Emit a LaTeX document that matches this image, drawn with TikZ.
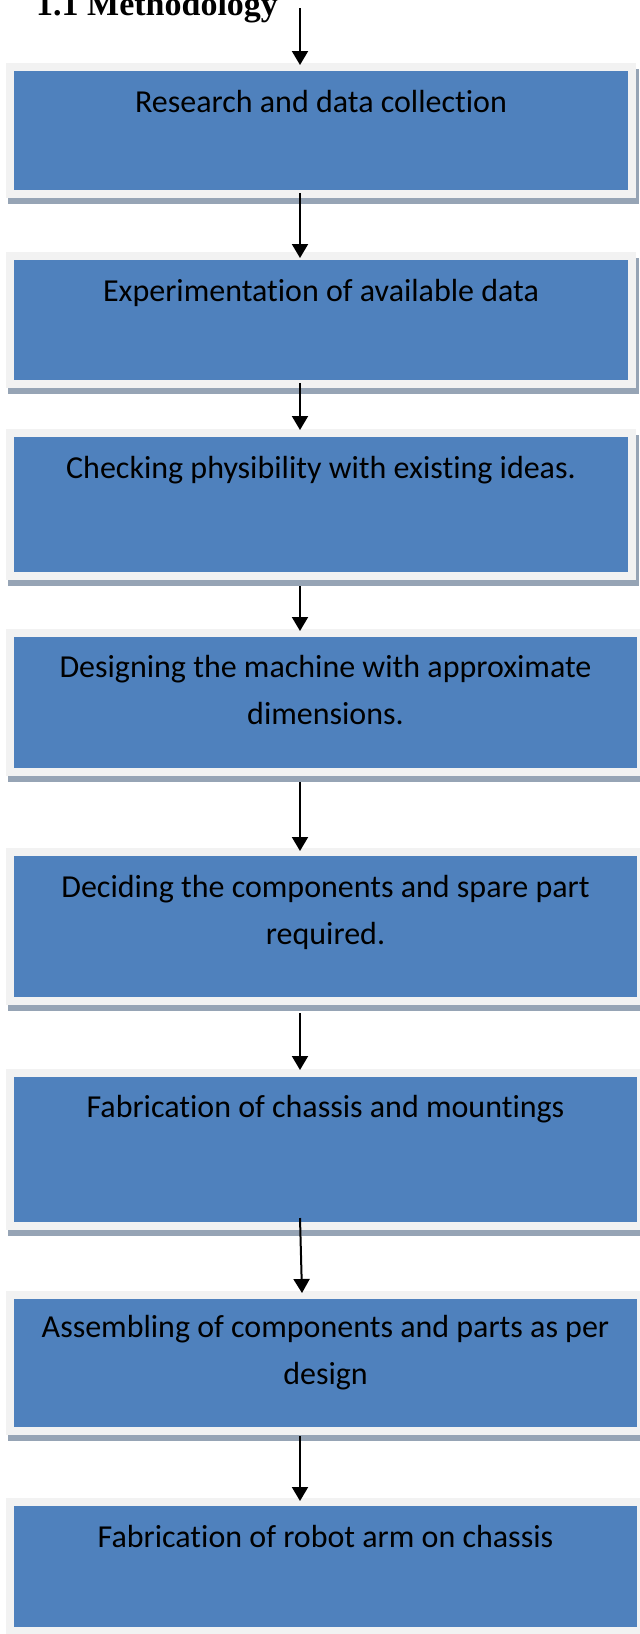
\documentclass[tikz,border=0pt]{standalone}
\usepackage{fontspec}
\setmainfont{Carlito}[Ligatures={NoCommon,NoContextual}]
\newfontfamily\titlefont{Liberation Serif}
\usetikzlibrary{arrows.meta,calc,backgrounds}
\definecolor{boxblue}{HTML}{4F81BD}
\definecolor{framegray}{HTML}{F2F2F2}
\definecolor{shadowc}{HTML}{96A4B5}
\begin{document}
\begin{tikzpicture}[x=1pt,y=1pt,
  stepbox/.style={rectangle, draw=framegray, line width=8pt, fill=boxblue, inner sep=0pt, outer sep=0pt, anchor=north west},
  txt/.style={font=\fontsize{32}{47}\selectfont, align=center, inner sep=0pt, anchor=north, text=black},
  arr/.style={line width=2pt, -{Triangle[width=16pt,length=14pt]}},
  shadowfill/.style={fill=shadowc}
]
\useasboundingbox (0,0) rectangle (640,-1634);

% boxes
\node[stepbox, minimum width=622, minimum height=127] (b1) at (10,-67) {};
\node[stepbox, minimum width=622, minimum height=128] (b2) at (10,-256) {};
\node[stepbox, minimum width=622, minimum height=143] (b3) at (10,-433) {};
\node[stepbox, minimum width=631, minimum height=139] (b4) at (10,-633) {};
\node[stepbox, minimum width=631, minimum height=149] (b5) at (10,-852) {};
\node[stepbox, minimum width=631, minimum height=153] (b6) at (10,-1073) {};
\node[stepbox, minimum width=631, minimum height=136] (b7) at (10,-1295) {};
\node[stepbox, minimum width=631, minimum height=129] (b8) at (10,-1502) {};

% page background and shadows
\begin{scope}[on background layer]
\fill[white] (0,0) rectangle (640,-1634);
\foreach \b in {b1,b2,b3,b4,b5,b6,b7,b8}{
  \fill[shadowfill] ($(\b.south west)+(-2,-10)$) rectangle ($(\b.north east)+(7,-2)$);
}
\end{scope}

% texts
\node[txt] (t1) at ($(b1.north)+(0,-23)$) {Research and data collection};
\node[txt] (t2) at ($(b2.north)+(0,-23)$) {Experimentation of available data};
\node[txt] (t3) at ($(b3.north)+(0,-23)$) {Checking physibility with existing ideas.};
\node[txt] (t4) at ($(b4.north)+(0,-22)$) {Designing the machine with approximate\\dimensions.};
\node[txt] (t5) at ($(b5.north)+(0,-23)$) {Deciding the components and spare part\\required.};
\node[txt] (t6) at ($(b6.north)+(0,-22)$) {Fabrication of chassis and mountings};
\node[txt] (t7) at ($(b7.north)+(0,-20)$) {Assembling of components and parts as per\\design};
\node[txt] (t8) at ($(b8.north)+(0,-23)$) {Fabrication of robot arm on chassis};

% title
\node[font=\titlefont\bfseries\fontsize{34}{40}\selectfont, anchor=base west, inner sep=0pt] (title) at (36,-15) {1.1 Methodology};

% arrows
\coordinate (ax) at (300,0);
\coordinate (a0) at (300,-8);
\draw[arr] (a0) -- ($(b1.north -| ax)+(0,2)$);
\draw[arr] ($(b1.south -| ax)+(0,1)$) -- ($(b2.north -| ax)+(0,-2)$);
\draw[arr] ($(b2.south -| ax)+(0,1)$) -- ($(b3.north -| ax)+(0,3)$);
\draw[arr] ($(b3.south -| ax)+(0,-10)$) -- ($(b4.north -| ax)+(0,2)$);
\draw[arr] ($(b4.south -| ax)+(0,-10)$) -- ($(b5.north -| ax)+(0,1)$);
\draw[arr] ($(b5.south -| ax)+(0,-12)$) -- ($(b6.north -| ax)+(0,3)$);
\draw[arr] ($(b6.south -| ax)+(0,8)$) -- ($(b7.north -| ax)+(2,2)$);
\draw[arr] ($(b7.south -| ax)+(0,-5)$) -- ($(b8.north -| ax)+(0,1)$);
\end{tikzpicture}
\end{document}
